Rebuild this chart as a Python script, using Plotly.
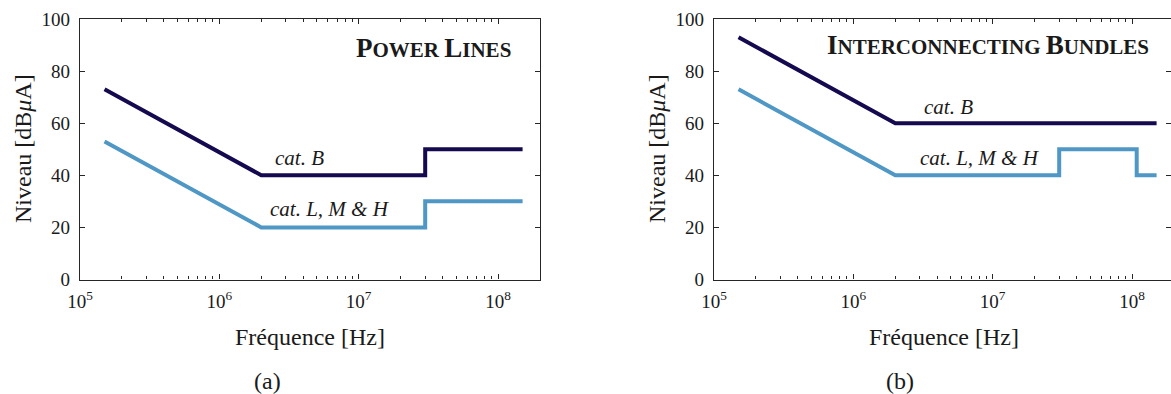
import math
import plotly.graph_objects as go

# ---------------- data ----------------
# (a) Power lines
pl_freq_catB = [1.5e5, 2e6, 30e6, 30e6, 150e6]
pl_level_catB = [73, 40, 40, 50, 50]
pl_freq_catLMH = [1.5e5, 2e6, 30e6, 30e6, 150e6]
pl_level_catLMH = [53, 20, 20, 30, 30]

# (b) Interconnecting bundles
ib_freq_catB = [1.5e5, 2e6, 150e6]
ib_level_catB = [93, 60, 60]
ib_freq_catLMH = [1.5e5, 2e6, 30e6, 30e6, 108e6, 108e6, 150e6]
ib_level_catLMH = [73, 40, 40, 50, 50, 40, 40]

x_tick_vals = [1e5, 1e6, 1e7, 1e8]
x_tick_text = ["10<sup>5</sup>", "10<sup>6</sup>", "10<sup>7</sup>", "10<sup>8</sup>"]
y_tick_vals = [0, 20, 40, 60, 80, 100]

DARK = "#15094f"
LIGHT = "#4f97c5"
FONT = "Liberation Serif, Times New Roman, serif"
TXT = "#1a1a1a"
AX = "#262626"

W, H = 1171, 394

fig = go.Figure()
fig.add_trace(go.Scatter(x=pl_freq_catB, y=pl_level_catB, mode="lines",
                         line=dict(color=DARK, width=4), xaxis="x", yaxis="y"))
fig.add_trace(go.Scatter(x=pl_freq_catLMH, y=pl_level_catLMH, mode="lines",
                         line=dict(color=LIGHT, width=4), xaxis="x", yaxis="y"))
fig.add_trace(go.Scatter(x=ib_freq_catB, y=ib_level_catB, mode="lines",
                         line=dict(color=DARK, width=4), xaxis="x2", yaxis="y2"))
fig.add_trace(go.Scatter(x=ib_freq_catLMH, y=ib_level_catLMH, mode="lines",
                         line=dict(color=LIGHT, width=4), xaxis="x2", yaxis="y2"))

# geometry (pixels)
L1, R1 = 80, 540
L2, R2full = 714, 1174
TOP, BOT = 19, 279.5
decade = (R1 - L1) / (math.log10(2e8) - 5)
R2 = W
x2_end = 5 + (R2 - L2) / decade

ydom = [(H - BOT) / H, (H - TOP) / H]

def xaxis_cfg(dom, rng):
    return dict(type="log", domain=dom, range=rng, tickmode="array",
                tickvals=x_tick_vals, ticktext=x_tick_text, automargin=False,
                ticks="inside", ticklen=5, tickwidth=1.2, tickcolor=AX,
                showline=True, linecolor=AX, linewidth=1.4, mirror="allticks",
                showgrid=False, zeroline=False, ticklabelstandoff=4,
                minor=dict(ticks="inside", ticklen=3, tickwidth=1, tickcolor=AX,
                           dtick="D1", showgrid=False),
                tickfont=dict(family=FONT, size=19, color=TXT))

def yaxis_cfg(anchor):
    return dict(domain=ydom, range=[0, 100], tickmode="array", tickvals=y_tick_vals,
                ticks="inside", ticklen=5, tickwidth=1.2, tickcolor=AX, automargin=False,
                showline=True, linecolor=AX, linewidth=1.4, mirror="allticks",
                showgrid=False, zeroline=False, anchor=anchor, ticklabelstandoff=5,
                tickfont=dict(family=FONT, size=19, color=TXT))

fig.update_layout(
    template="none",
    width=W, height=H, margin=dict(l=0, r=0, t=0, b=0, autoexpand=False),
    paper_bgcolor="white", plot_bgcolor="white", showlegend=False,
    xaxis=xaxis_cfg([L1 / W, R1 / W], [5, math.log10(2e8)]) | dict(anchor="y"),
    yaxis=yaxis_cfg("x"),
    xaxis2=xaxis_cfg([L2 / W, 1.0], [5, x2_end]) | dict(anchor="y2"),
    yaxis2=yaxis_cfg("x2"),
)

ann = []
def add(text, x, y, xref, yref, size, xanchor="center", yanchor="middle", angle=0):
    ann.append(dict(text=text, x=x, y=y, xref=xref, yref=yref, showarrow=False,
                    xanchor=xanchor, yanchor=yanchor, textangle=angle,
                    font=dict(family=FONT, size=size, color=TXT)))

big = '<span style="font-size:27px">%s</span>'
title_a = "<b>" + big % "P" + "OWER " + big % "L" + "INES</b>"
title_b = "<b>" + big % "I" + "NTERCONNECTING " + big % "B" + "UNDLES</b>"
add(title_a, (513 - L1) / (R1 - L1), (BOT - 48) / (BOT - TOP), "x domain", "y domain", 21, xanchor="right")
add(title_b, (1151 - L2) / (R2 - L2), (BOT - 45) / (BOT - TOP), "x2 domain", "y2 domain", 21, xanchor="right")

add("<i>cat. B</i>", 6.576, 46.6, "x", "y", 21)
add("<i>cat. L, M &amp; H</i>", 6.794, 27.1, "x", "y", 21)
add("<i>cat. B</i>", 6.686, 66.3, "x2", "y2", 21)
add("<i>cat. L, M &amp; H</i>", 6.909, 46.6, "x2", "y2", 21)

# axis titles
for lx, cx in [(L1, (L1 + R1) / 2), (L2, (L2 + R2full) / 2)]:
    add("Fréquence [Hz]", cx / W, 1 - 337 / H, "paper", "paper", 24)
    add("Niveau [dB<i>μ</i>A]", (lx - 57) / W, 1 - 149 / H, "paper", "paper", 24, angle=-90)

add("(a)", 267 / W, 1 - 381 / H, "paper", "paper", 24)
add("(b)", 900 / W, 1 - 381 / H, "paper", "paper", 24)

fig.update_layout(annotations=ann)
fig.write_html("out.html")
